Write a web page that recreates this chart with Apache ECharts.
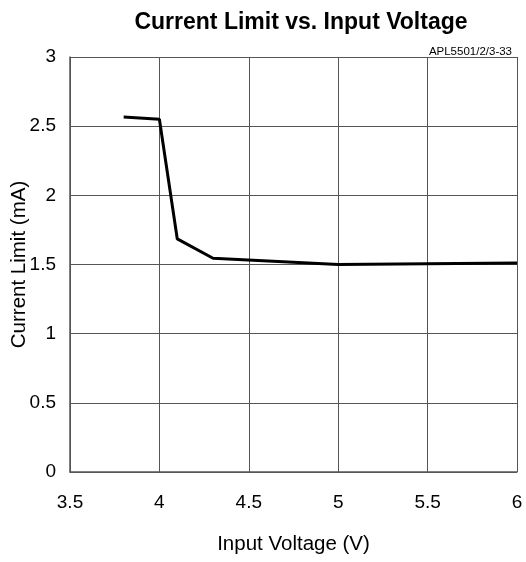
<!DOCTYPE html>
<html><head><meta charset="utf-8">
<script src="https://cdn.jsdelivr.net/npm/echarts@6/dist/echarts.min.js"></script>
<style>html,body{margin:0;padding:0;background:#fff}#c{width:526px;height:562px}</style>
</head><body><div id="c"></div>
<script>
const voltage = [3.8, 4.0, 4.1, 4.3, 5.0, 6.0];
const currentLimit = [2.567, 2.55, 1.685, 1.545, 1.5, 1.51];
const titleText = 'Current Limit vs. Input Voltage';
const noteText = 'APL5501/2/3-33';
const xName = 'Input Voltage (V)';
const yName = 'Current Limit (mA)';
const FONT = 'Liberation Sans, Arial, sans-serif';
const chart = echarts.init(document.getElementById('c'));
chart.setOption({
  animation: false,
  title: [
    {text: titleText, left: 296, top: 6, textAlign: 'center',
     textStyle: {fontFamily: FONT, fontSize: 23, fontWeight: 'bold', color: '#000'}},
    {text: noteText, right: 9, top: 41,
     textStyle: {fontFamily: FONT, fontSize: 11.5, fontWeight: 'normal', color: '#000'}}
  ],
  grid: {left: 70, right: 9, top: 57, bottom: 90, containLabel: false, outerBoundsMode: 'none'},
  xAxis: {
    type: 'value', min: 3.5, max: 6, interval: 0.5,
    name: xName, nameLocation: 'middle', nameGap: 62, nameMoveOverlap: false,
    nameTextStyle: {fontFamily: FONT, fontSize: 20.5, color: '#000'},
    axisLine: {show: true, lineStyle: {color: '#555', width: 1.5}},
    axisTick: {show: false},
    axisLabel: {fontFamily: FONT, fontSize: 19, color: '#000', margin: 21},
    splitLine: {show: true, lineStyle: {color: '#555', width: 1}}
  },
  yAxis: {
    type: 'value', min: 0, max: 3, interval: 0.5,
    name: yName, nameLocation: 'middle', nameGap: 40, nameMoveOverlap: false,
    nameTextStyle: {fontFamily: FONT, fontSize: 20.5, color: '#000'},
    axisLine: {show: true, lineStyle: {color: '#555', width: 1.5}},
    axisTick: {show: false},
    axisLabel: {fontFamily: FONT, fontSize: 19, color: '#000', margin: 14},
    splitLine: {show: true, lineStyle: {color: '#555', width: 1}}
  },
  series: [{
    type: 'line', data: voltage.map((v, i) => [v, currentLimit[i]]),
    showSymbol: false, lineStyle: {color: '#000', width: 3}
  }]
});
</script></body></html>
